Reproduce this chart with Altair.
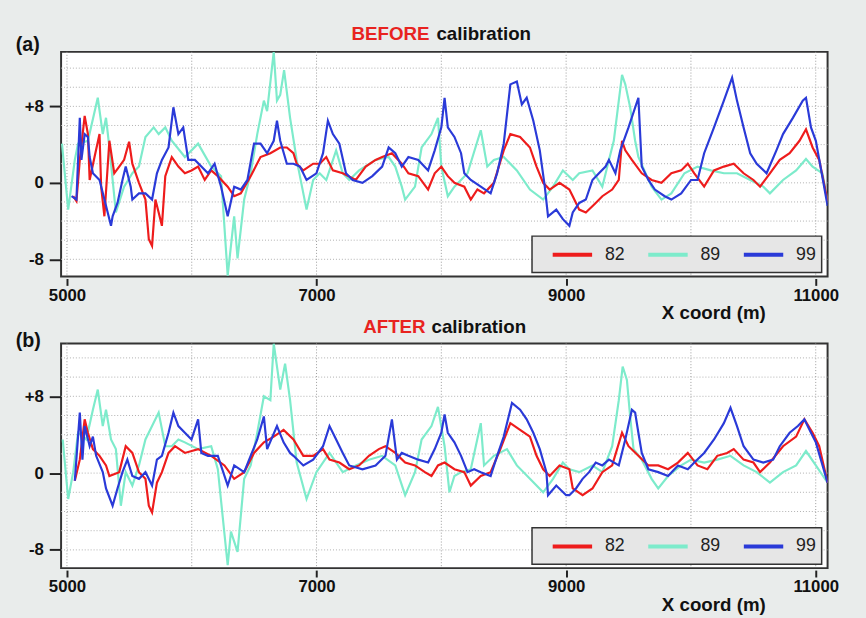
import altair as alt
import pandas as pd

FONT = "Liberation Sans"
SERIES = ["82", "89", "99"]
COLORS = ["#ee1c1c", "#7debcb", "#2a3ad8"]

x_ticks = [5000, 7000, 9000, 11000]
y_ticks = [-8, 0, 8]
grid_x = [5000, 6000, 7000, 8000, 9000, 10000, 11000]
grid_y = [-8, -6, -4, -2, 0, 2, 4, 6, 8, 10, 12]

# ---------------- (a) BEFORE calibration ----------------
a89_x = [4960, 5010, 5063, 5089, 5168, 5247, 5287, 5313, 5340, 5392, 5458, 5524, 5577, 5629, 5695, 5735, 5788, 5840,
         5945, 6051, 6156, 6235, 6288, 6340, 6367, 6420, 6472, 6525, 6578, 6604, 6657, 6683, 6709, 6740, 6788, 6841,
         6920, 6973, 7025, 7078, 7157, 7210, 7262, 7341, 7473, 7578, 7631, 7683, 7710, 7789, 7842, 7921, 7973, 8000,
         8052, 8105, 8210, 8316, 8368, 8421, 8500, 8605, 8710, 8816, 8895, 8974, 9053, 9105, 9211, 9290, 9343, 9382,
         9422, 9448, 9474, 9513, 9553, 9579, 9685, 9764, 9843, 9948, 10053, 10159, 10264, 10369, 10475, 10580, 10633,
         10738, 10843, 10922, 10975, 11054, 11095]
a89_y = [4.1, -2.8, 2.4, 4.1, 4.4, 8.9, 5.1, 6.8, 3.7, -3.1, -0.4, 1.0, 1.7, 4.8, 5.8, 5.1, 5.8, 4.4,
         2.7, 4.1, 1.7, 0.7, -9.7, -3.5, -7.9, -1.75, 1.0, 5.1, 8.6, 7.5, 13.7, 8.6, 9.2, 11.8, 6.8, 2.4,
         -2.8, 0.3, 1.0, 0.3, 3.4, 1.0, 0.3, 1.3, 2.4, 2.7, 1.7, -0.4, -1.75, -0.4, 3.7, 5.1, 6.8, 1.7,
         -1.4, -0.4, 1.0, 5.5, 1.7, 2.4, 2.7, 1.3, -0.7, -1.75, -0.4, 1.3, 0.3, 1.0, 1.3, -0.4, 2.4, 4.4,
         8.6, 11.3, 10.3, 7.9, 4.4, 2.7, -0.4, -1.75, -1.1, 1.0, 1.7, 1.3, 1.0, 1.0, 0.3, -0.4, -1.1,
         0.3, 1.3, 2.5, 1.7, 1.0, -1.9]

a82_x = [5050, 5076, 5103, 5142, 5168, 5182, 5221, 5261, 5274, 5300, 5340, 5379, 5419, 5458, 5498, 5524, 5577, 5629,
         5656, 5682, 5709, 5735, 5761, 5788, 5840, 5893, 5945, 5998, 6051, 6104, 6156, 6209, 6288, 6340, 6393, 6472,
         6551, 6630, 6709, 6762, 6815, 6841, 6894, 6973, 7025, 7078, 7131, 7210, 7315, 7394, 7473, 7526, 7604, 7683,
         7736, 7815, 7894, 7947, 8000, 8052, 8105, 8184, 8236, 8289, 8342, 8421, 8500, 8553, 8631, 8710, 8763, 8816,
         8868, 8947, 9026, 9053, 9105, 9158, 9237, 9290, 9369, 9422, 9448, 9474, 9527, 9606, 9685, 9764, 9843, 9922,
         9975, 10027, 10106, 10185, 10264, 10343, 10422, 10501, 10554, 10633, 10712, 10791, 10870, 10922, 10975,
         11028, 11095]
a82_y = [-1.4, -1.9, 2.4, 7.0, 5.1, 0.3, 2.7, 5.1, -0.4, -3.5, 4.4, 1.0, 1.7, 2.4, 4.3, 2.0, 0.0, -1.75,
         -5.9, -6.6, -1.75, -3.1, -4.5, 0.7, 2.7, 1.7, 1.0, 1.3, 1.7, 0.3, 1.3, 0.7, -0.4, -1.4, -1.1, 0.7,
         2.7, 3.1, 3.7, 3.7, 3.1, 2.0, 1.3, 2.0, 2.0, 2.7, 1.3, 1.0, 0.3, 1.7, 2.4, 2.7, 3.1, 2.0,
         1.0, 0.7, -0.7, 1.0, 1.7, 0.7, 0.0, -0.4, -1.75, -0.7, -1.1, 0.0, 3.4, 5.1, 4.8, 3.7, 1.7, 0.0,
         -0.7, 0.0, -0.7, -1.4, -2.8, -3.1, -2.1, -1.4, -0.7, 0.3, 4.4, 3.4, 2.4, 1.0, 0.3, 0.0, 1.0, 1.3,
         2.0, 1.0, -0.4, 1.3, 1.7, 2.0, 1.0, 0.3, -0.4, 1.0, 2.4, 3.1, 4.4, 5.6, 3.7,
         2.4, -1.9]

a99_x = [5037, 5076, 5103, 5116, 5142, 5168, 5182, 5208, 5261, 5313, 5353, 5366, 5405, 5445, 5471, 5511, 5524, 5577,
         5629, 5682, 5721, 5761, 5814, 5853, 5893, 5932, 5972, 6025, 6077, 6130, 6183, 6235, 6288, 6340, 6393, 6446,
         6499, 6551, 6604, 6657, 6683, 6709, 6762, 6815, 6867, 6920, 6999, 7052, 7091, 7131, 7183, 7236, 7289, 7368,
         7447, 7526, 7578, 7631, 7683, 7736, 7815, 7894, 7947, 8000, 8026, 8052, 8105, 8158, 8184, 8236, 8316, 8395,
         8447, 8500, 8553, 8605, 8645, 8684, 8737, 8789, 8829, 8855, 8921, 8974, 9026, 9053, 9105, 9158, 9211, 9263,
         9316, 9343, 9395, 9434, 9500, 9579, 9606, 9659, 9711, 9790, 9843, 9922, 10001, 10053, 10106, 10185, 10264,
         10330, 10369, 10422, 10475, 10527, 10606, 10685, 10738, 10817, 10896, 10922, 10962, 11001, 11095]
a99_y = [-1.4, -1.75, 6.8, 2.4, 5.1, 4.8, 2.7, 1.0, 0.3, -2.4, -4.5, -3.5, -2.1, 0.3, 1.7, -0.4, -1.75, -1.1,
         -1.1, -1.75, 1.0, 2.4, 3.7, 7.9, 5.1, 5.8, 2.4, 2.4, 1.7, 1.0, 2.0, -0.4, -3.5, -0.4, -0.7, 0.3,
         4.1, 4.1, 3.1, 4.4, 6.5, 4.4, 2.0, 2.0, 1.7, 0.3, 1.0, 3.1, 6.5, 5.1, 4.1, 1.0, 0.3, 0.0,
         0.7, 1.7, 3.7, 3.1, 1.7, 2.7, 2.4, 1.3, 3.4, 5.8, 8.9, 5.8, 4.8, 3.1, 1.0, 0.3, -0.4, -1.1,
         1.0, 4.1, 10.3, 10.6, 8.2, 8.9, 6.5, 3.4, -0.4, -3.5, -2.8, -3.8, -4.5, -3.1, -2.1, -1.75, 0.3, 1.0,
         1.7, 2.4, 1.0, 3.4, 5.8, 8.9, 1.7, 0.3, -0.7, -1.4, -1.75, -1.1, 0.3, 0.3, 3.1, 5.8, 8.6,
         11.0, 8.6, 5.8, 3.1, 2.0, 1.0, 3.4, 5.1, 6.8, 8.6, 8.9, 5.8, 4.4, -2.4]

# ---------------- (b) AFTER calibration ----------------
b89_x = [4966, 5010, 5050, 5089, 5155, 5208, 5247, 5287, 5313, 5353, 5392, 5432, 5471, 5524, 5577, 5629, 5682, 5735,
         5788, 5840, 5893, 5945, 6051, 6156, 6209, 6288, 6314, 6367, 6420, 6472, 6525, 6578, 6630, 6657, 6709, 6748,
         6788, 6841, 6920, 6999, 7104, 7210, 7315, 7420, 7526, 7631, 7710, 7789, 7842, 7921, 7973, 8026, 8065, 8105,
         8158, 8236, 8316, 8342, 8421, 8526, 8605, 8710, 8816, 8895, 8974, 9026, 9105, 9211, 9290, 9369, 9422, 9453,
         9487, 9513, 9540, 9606, 9685, 9738, 9817, 9922, 10001, 10106, 10211, 10317, 10422, 10527, 10633, 10738,
         10843, 10922, 11001, 11095]
b89_y = [3.5, -2.7, 0.1, 4.2, 3.5, 6.6, 8.7, 4.9, 6.6, 3.5, 2.5, -3.4, 0.1, -1.3, 0.8, 3.5, 4.9, 6.3,
         2.8, 2.8, 3.5, 3.2, 2.5, 2.8, 0.4, -9.6, -6.1, -8.2, -0.6, 0.8, 4.2, 8.0, 7.6, 13.5, 8.7, 11.4,
         7.6, 1.1, -2.7, 0.1, 2.1, 0.1, 0.8, 1.4, 1.8, 0.8, -2.3, 0.1, 3.5, 4.9, 6.9, 2.8, -2.0, -0.3,
         0.1, 0.4, 5.2, 0.8, 1.8, 2.5, 0.8, -0.6, -2.0, -0.6, 1.1, 0.4, 0.1, 0.8, 0.1, 2.8, 7.6, 11.1,
         9.7, 5.9, 2.5, 1.4, -0.6, -1.6, -0.3, 0.8, 1.4, 1.1, 1.4, 1.8, 0.8, 0.1, -1.0, 0.1,
         0.8, 2.3, 0.8, -1.0]

b82_x = [5063, 5103, 5142, 5168, 5208, 5261, 5313, 5340, 5419, 5471, 5524, 5577, 5629, 5656, 5682, 5721, 5761, 5814,
         5866, 5945, 6051, 6156, 6262, 6340, 6420, 6499, 6578, 6657, 6736, 6815, 6894, 6973, 7052, 7104, 7183, 7262,
         7341, 7420, 7499, 7552, 7631, 7710, 7789, 7868, 7921, 7973, 8026, 8105, 8184, 8236, 8316, 8395, 8473, 8553,
         8631, 8710, 8763, 8816, 8868, 8947, 9026, 9053, 9132, 9211, 9290, 9369, 9448, 9500, 9579, 9659, 9738, 9817,
         9896, 9975, 10053, 10132, 10211, 10290, 10343, 10422, 10501, 10554, 10633, 10738, 10843, 10909, 10975,
         11028, 11095]
b82_y = [-0.8, 1.4, 5.6, 4.2, 2.5, 1.8, 0.8, -0.3, 0.1, 2.8, 2.1, 0.1, -0.6, -3.4, -4.1, -1.0, 0.1, 2.1,
         2.8, 2.1, 2.5, 1.8, 0.8, -0.6, 0.1, 2.1, 3.2, 3.8, 4.5, 3.5, 1.8, 1.8, 2.5, 1.4, 1.1, 0.4,
         0.8, 1.8, 2.5, 2.8, 2.1, 1.1, 0.8, 0.1, -0.3, 0.8, 1.1, 0.4, 0.1, -1.3, -0.3, 0.1, 2.5, 5.2,
         4.5, 3.8, 1.8, 0.4, -0.3, 0.8, 0.4, -1.6, -2.3, -1.6, 0.1, 0.8, 4.2, 2.8, 1.8, 0.8, 0.8, 0.4,
         1.1, 2.1, 0.8, 0.4, 1.8, 2.1, 2.5, 1.4, 1.1, 0.1, 1.1, 2.8, 3.8, 5.6, 4.2,
         2.8, -1.0]

b99_x = [5063, 5103, 5124, 5142, 5182, 5208, 5234, 5287, 5313, 5366, 5405, 5445, 5484, 5524, 5577, 5629, 5682, 5721,
         5761, 5814, 5853, 5893, 5945, 5998, 6051, 6077, 6130, 6209, 6288, 6340, 6420, 6472, 6525, 6578, 6604, 6683,
         6736, 6788, 6815, 6894, 6973, 7052, 7104, 7157, 7210, 7262, 7368, 7473, 7552, 7604, 7644, 7683, 7736, 7815,
         7894, 7947, 8000, 8026, 8052, 8105, 8158, 8210, 8263, 8316, 8395, 8447, 8500, 8566, 8631, 8684, 8737, 8789,
         8842, 8855, 8921, 9000, 9026, 9079, 9132, 9184, 9237, 9290, 9343, 9422, 9474, 9527, 9553, 9579, 9606, 9659,
         9738, 9817, 9896, 9975, 10027, 10106, 10185, 10264, 10317, 10369, 10422, 10501, 10580, 10659, 10712, 10791,
         10857, 10909, 10962, 11001, 11095]
b99_y = [-0.8, 6.3, 1.4, 4.9, 2.8, 3.8, 1.8, 0.1, -1.6, -3.4, -1.6, 0.1, 1.4, -0.3, -0.6, 0.1, -1.3, 1.4,
         1.8, 4.2, 6.3, 4.9, 4.2, 3.5, 5.6, 2.1, 1.8, 1.8, -1.3, 0.8, 0.1, 1.8, 3.5, 5.9, 2.5, 4.9,
         3.2, 2.1, 1.8, 0.8, 1.4, 2.8, 4.9, 3.5, 2.1, 0.8, 0.4, 0.8, 1.8, 5.6, 1.4, 2.1, 1.8, 1.4,
         1.1, 2.5, 4.2, 6.1, 4.2, 3.2, 1.8, 0.1, 0.4, 0.1, -0.3, 1.8, 3.8, 7.3, 6.6, 5.6, 4.2, 2.5,
         0.1, -2.3, -1.3, -2.3, -2.3, -1.6, -0.6, 0.1, 1.1, 0.8, 1.4, 0.8, 3.5, 6.6, 6.3, 4.2, 2.1, 0.4,
         0.1, -0.3, 0.8, 0.4, 1.1, 2.1, 3.5, 5.2, 6.8, 4.9, 2.8, 1.4, 1.1, 1.4, 2.8, 4.2,
         4.9, 5.6, 4.2, 3.2, -1.0]


def long_table(parts):
    rows = []
    for name, xs, ys in parts:
        for xv, yv in zip(xs, ys):
            rows.append({"x": xv, "y": yv, "series": name})
    return pd.DataFrame(rows)


df_a = long_table([("82", a82_x, a82_y), ("89", a89_x, a89_y), ("99", a99_x, a99_y)])
df_b = long_table([("82", b82_x, b82_y), ("89", b89_x, b89_y), ("99", b99_x, b99_y)])

W, H = 778, 228
X_DOMAIN = [4953, 11095]


def panel(df, tag, word, ydom, tag_y, title_y, word_x, cal_x):
    xs = alt.Scale(domain=X_DOMAIN, nice=False, zero=False)
    ys = alt.Scale(domain=ydom, nice=False, zero=False)
    xaxis = alt.Axis(values=x_ticks, format="d", title="X coord (m)", domain=False, grid=False,
                     tickSize=7, tickWidth=2, tickColor="#222", offset=2, labelFlush=False,
                     labelFontSize=17, labelFontWeight="bold", labelFont=FONT, labelColor="#111",
                     labelPadding=2, titleFontSize=19, titleFont=FONT, titleFontWeight="bold",
                     titleX=662, titleY=35, titleAlign="center", titleBaseline="middle", titleColor="#111")
    yaxis = alt.Axis(values=y_ticks, labelExpr="datum.value > 0 ? '+' + datum.value : '' + datum.value",
                     title=None, domain=False, grid=False, tickSize=12, tickWidth=2, tickColor="#222",
                     labelFontSize=17, labelFontWeight="bold", labelFont=FONT, labelColor="#111",
                     labelPadding=6)
    color = alt.Color("series:N", scale=alt.Scale(domain=SERIES, range=COLORS),
                      legend=alt.Legend(orient="none", legendX=497, legendY=184, direction="horizontal",
                                        title=None, symbolType="stroke", symbolSize=1600,
                                        symbolStrokeWidth=4, labelFontSize=18, labelFont=FONT,
                                        labelColor="#222", labelOffset=11, columnPadding=15, padding=0))

    vgrid = alt.Chart(pd.DataFrame({"gx": grid_x})).mark_rule(
        color="#9a9a9a", strokeDash=[1, 2], strokeWidth=1).encode(x=alt.X("gx:Q", scale=xs, axis=xaxis))
    hgrid = alt.Chart(pd.DataFrame({"gy": grid_y})).mark_rule(
        color="#b0b0b0", strokeDash=[1, 2], strokeWidth=1).encode(y=alt.Y("gy:Q", scale=ys, axis=yaxis))

    lines = []
    for s in ["89", "82", "99"]:
        lines.append(alt.Chart(df).transform_filter(alt.datum.series == s).mark_line(
            strokeWidth=2.2, clip=True, interpolate="linear").encode(
            x=alt.X("x:Q", scale=xs, axis=xaxis),
            y=alt.Y("y:Q", scale=ys, axis=yaxis),
            color=color,
        ))

    one = pd.DataFrame({"k": [0]})
    box = alt.Chart(one).mark_rect(fill="#e6e6e6", stroke="#333", strokeWidth=1.5).encode(
        x=alt.value(478), x2=alt.value(772), y=alt.value(187), y2=alt.value(224))
    t_tag = alt.Chart(one).mark_text(text=tag, font=FONT, fontSize=20, fontWeight="bold", align="left",
                                     baseline="middle", color="#111").encode(
        x=alt.value(-46), y=alt.value(tag_y))
    t_word = alt.Chart(one).mark_text(text=word, font=FONT, fontSize=19, fontWeight="bold", align="right",
                                      baseline="middle", color="#e8231f").encode(
        x=alt.value(word_x), y=alt.value(title_y))
    t_cal = alt.Chart(one).mark_text(text="calibration", font=FONT, fontSize=19, fontWeight="bold",
                                     align="left", baseline="middle", color="#111").encode(
        x=alt.value(cal_x), y=alt.value(title_y))

    return alt.layer(vgrid, hgrid, *lines, box, t_tag, t_word, t_cal).properties(width=W, height=H)


pa = panel(df_a, "(a)", "BEFORE", [-9.8, 13.7], -7, -18, 374, 381)
pb = panel(df_b, "(b)", "AFTER", [-9.9, 13.5], -2, -17, 370, 376)

chart = alt.vconcat(pa, pb, spacing=68, bounds="flush").resolve_scale(
    color="independent").resolve_legend(color="independent").configure_view(
    fill="white", stroke="#333", strokeWidth=2).properties(
    background="#e9eceb", padding={"left": 15, "top": 20, "right": 26, "bottom": 1})

chart.save("out.html", embed_options={"renderer": "svg", "actions": False})
